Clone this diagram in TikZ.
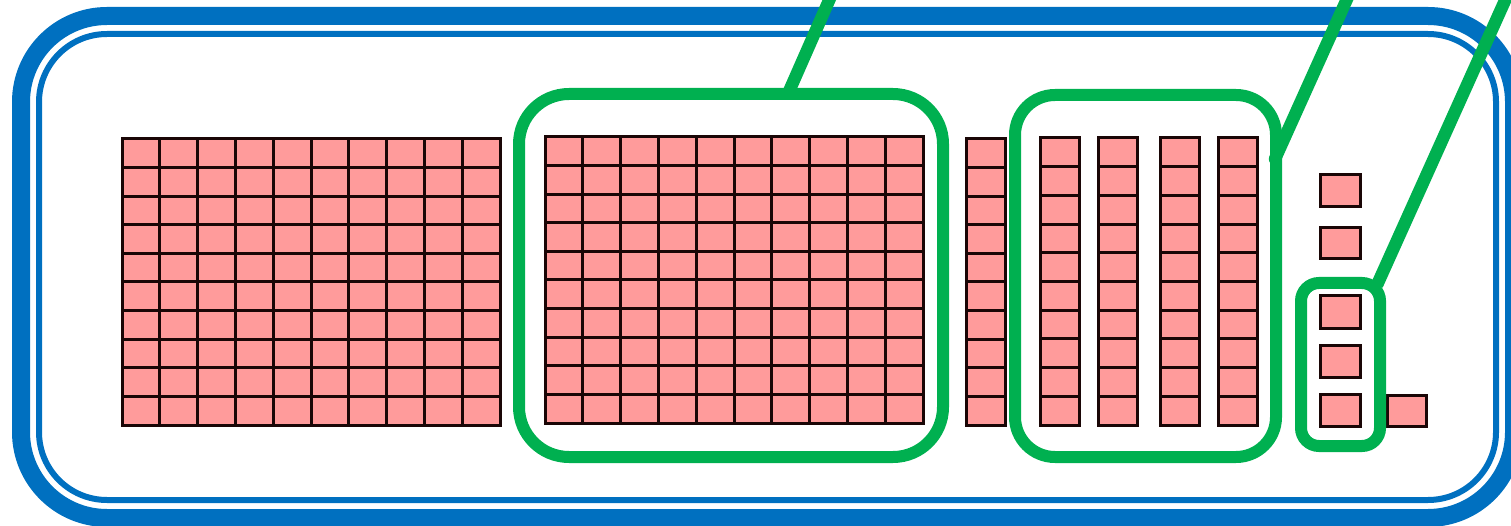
\documentclass[tikz,border=0pt]{standalone}
\usepackage{tikz}
\definecolor{frameblue}{HTML}{0070C0}
\definecolor{boxgreen}{HTML}{00B050}
\definecolor{cellpink}{HTML}{FF9B9B}
\definecolor{cellline}{HTML}{1A0606}
\begin{document}
\begin{tikzpicture}[x=1pt,y=-1pt,
  cell/.style={fill=cellpink,draw=cellline,line width=3pt},
  greenbox/.style={draw=boxgreen,line width=12pt},
  greenline/.style={draw=boxgreen,line width=12.5pt},
  bluethick/.style={draw=frameblue,line width=18pt},
  bluethin/.style={draw=frameblue,line width=6pt}]
\useasboundingbox (0,0) rectangle (1511,526);
\begin{scope}
\clip (0,0) rectangle (1511,526);
% frames
\draw[bluethick,rounded corners=86pt] (21,16) rectangle (1514,518);
\draw[bluethin,rounded corners=68pt] (39,34) rectangle (1496,500);
% grid 1
\foreach \i in {0,...,9}{
  \foreach \j in {0,...,9}{
    \draw[cell] ({122+37.8*\i},{139+28.6*\j}) rectangle ++(37.8,28.6);
  }}
% grid 2
\foreach \i in {0,...,9}{
  \foreach \j in {0,...,9}{
    \draw[cell] ({545+37.8*\i},{137+28.6*\j}) rectangle ++(37.8,28.6);
  }}
% single strip
\foreach \j in {0,...,9}{
  \draw[cell] (966,{139+28.6*\j}) rectangle ++(39,28.6);
}
% four strips
\foreach \x in {1040,1098,1160,1218}{
  \foreach \j in {0,...,9}{
    \draw[cell] (\x,{138+28.7*\j}) rectangle ++(39,28.7);
  }}
% single squares
\foreach \y/\h in {175/32,228/31,296/32,345/32,394/32}{
  \draw[cell] (1320,\y) rectangle ++(40,\h);
}
\draw[cell] (1387,395) rectangle ++(39,31);
% green boxes
\draw[greenbox,rounded corners=50pt] (519,94) rectangle (943,457);
\draw[greenbox,rounded corners=40pt] (1015,95) rectangle (1276,457);
\draw[greenbox,rounded corners=18pt] (1301,283) rectangle (1380,446);
% green leader lines
\coordinate (s1) at (787,96);
\coordinate (e1) at ({787+0.44*112},-16);
\coordinate (s2) at (1275,159);
\coordinate (e2) at ({1275+0.45*175},-16);
\coordinate (s3) at (1377,285);
\coordinate (e3) at ({1377+0.45*301},-16);
\draw[greenline] (s1) -- (e1);
\draw[greenline,line cap=round] (s2) -- (e2);
\draw[greenline] (s3) -- (e3);
\end{scope}
\end{tikzpicture}
\end{document}
